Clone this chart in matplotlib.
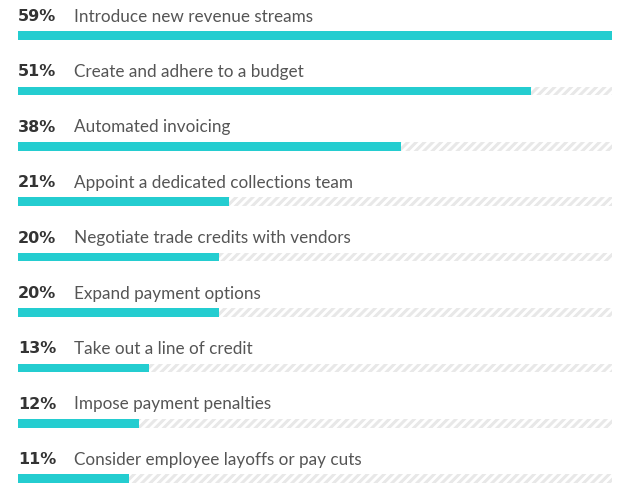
import matplotlib.pyplot as plt
import numpy as np

labels = [
    "Introduce new revenue streams",
    "Create and adhere to a budget",
    "Automated invoicing",
    "Appoint a dedicated collections team",
    "Negotiate trade credits with vendors",
    "Expand payment options",
    "Take out a line of credit",
    "Impose payment penalties",
    "Consider employee layoffs or pay cuts",
]
values = [59, 51, 38, 21, 20, 20, 13, 12, 11]

plt.rcParams["hatch.linewidth"] = 2.2

fig = plt.figure(figsize=(6.24, 4.86), dpi=100)
ax = fig.add_axes([18 / 624, 0, 594 / 624, 1])
ax.set_xlim(0, max(values))
ax.set_ylim(486, 0)
ax.axis("off")

rows = 35.5 + 55.4 * np.arange(len(values))
full = max(values)

ax.barh(rows, [full] * len(values), height=8.5, color="white",
        edgecolor="#e8e8e8", hatch="////", linewidth=0)
ax.barh(rows, values, height=8.5, color="#24cdd0", linewidth=0)

for y, v, lab in zip(rows, values, labels):
    ax.text(0, y - 19, f"{v}%", fontsize=11.5, fontweight="bold",
            color="#333333", va="center", ha="left", family="DejaVu Sans")
    ax.text(56 / 594 * full, y - 19, lab, fontsize=12.3, color="#555555",
            va="center", ha="left", family="Lato")

fig.savefig("out.png", dpi=100)
